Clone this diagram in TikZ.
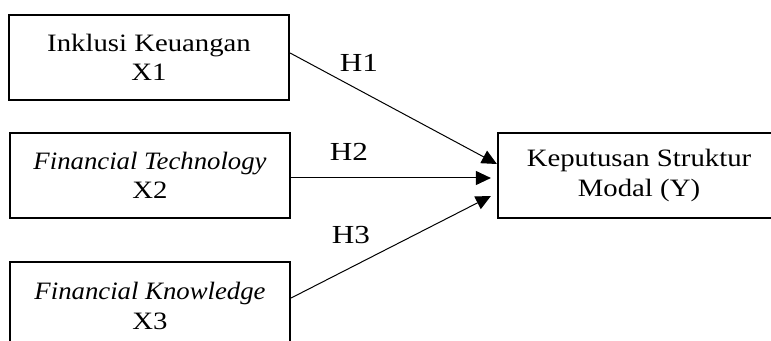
\documentclass[tikz,border=0pt]{standalone}
\usepackage{fontspec}
\setmainfont{Liberation Serif}
\newfontfamily\upfont[FakeStretch=1.15]{Liberation Serif}
\newfontfamily\itfont[FakeStretch=1.07]{Liberation Serif}
\newfontfamily\hfont[FakeStretch=1.2]{Liberation Serif}
\usetikzlibrary{arrows.meta}
\tikzset{
  varbox/.style={draw, line width=2.2pt, align=center, inner sep=0pt, font=\fontsize{25}{29.5}\selectfont\upfont},
  conn/.style={line width=1pt, -{Triangle[length=15pt,width=14pt]}},
  hlabel/.style={font=\fontsize{26}{30}\selectfont\hfont, inner sep=0pt}
}
\begin{document}
\begin{tikzpicture}[x=1pt,y=1pt]
\useasboundingbox (0,0) rectangle (771,340);
\clip (0,0) rectangle (771,340);
\node[varbox, minimum width=280pt, minimum height=85pt] (x1) at (149,282.5) {Inklusi Keuangan\\X1};
\node[varbox, minimum width=280pt, minimum height=85pt] (x2) at (150,164.5) {{\itfont\itshape Financial Technology}\\X2};
\node[varbox, minimum width=280pt, minimum height=88pt] (x3) at (150,34) {{\itfont\itshape Financial Knowledge}\\X3};
\node[varbox, minimum width=282pt, minimum height=85pt] (y) at (639,164.5) {Keputusan Struktur\\Modal (Y)};
\draw[conn] ([yshift=4.5pt]x1.east) -- ([yshift=11.5pt]y.west);
\draw[conn] ([yshift=-2.5pt]x2.east) -- ([xshift=-6pt,yshift=-2.5pt]y.west);
\draw[conn] ([yshift=8pt]x3.east) -- ([xshift=-6pt,yshift=-20.5pt]y.west);
\node[hlabel] (h1) at (359,277) {H1};
\node[hlabel] (h2) at (349,188) {H2};
\node[hlabel] (h3) at (351,105) {H3};
\end{tikzpicture}
\end{document}
